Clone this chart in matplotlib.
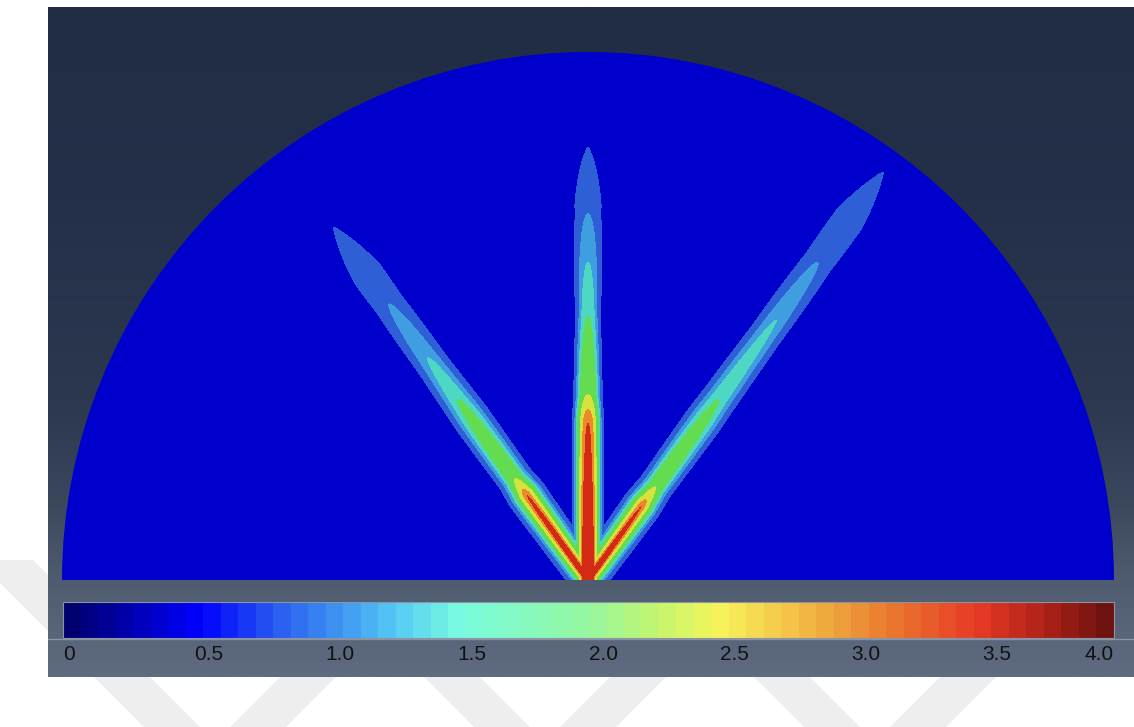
import numpy as np
import matplotlib.pyplot as plt
from matplotlib.colors import LinearSegmentedColormap, Normalize
from matplotlib.patches import Wedge, Polygon
from matplotlib.cm import ScalarMappable

# --- crack field data -------------------------------------------------------
# crack directions, degrees from vertical (+ = right)
crack_angle = [-35.9, 0.0, 36.0]
# contour levels of the band plot
levels = [0.6, 1.0, 1.3, 1.6, 2.3, 2.9, 3.3]
# distance from the notch (px) where each level runs out, per crack
tip_left = [435, 340, 274, 223, 125, 112, 106]
tip_mid = [432, 365, 317, 263, 185, 170, 157]
tip_right = [504, 392, 321, 223, 115, 100, 92]
# cross-section shape per crack: exponent and width (px) at the notch / further out
prof_k0 = [1.0, 2.2, 1.0]
prof_k1 = [1.8, 2.2, 1.8]
prof_w0 = [9.0, 11.0, 9.0]
prof_w1 = [18.0, 12.5, 18.0]
tip_widening = 8.0
tip_taper = 60.0
peak_value = 4.2
background_value = 0.35

band_colors = ['#0000cc', '#2f5fd6', '#3f9ee0', '#4ed8c4',
               '#64dc50', '#d8e23c', '#eb8a2a', '#d22a14']

# --- colorbar data ----------------------------------------------------------
cbar_ticks = [0, 0.5, 1.0, 1.5, 2.0, 2.5, 3.0, 3.5, 4.0]
cbar_labels = ['0', '0.5', '1.0', '1.5', '2.0', '2.5', '3.0', '3.5', '4.0']
cbar_pos = [0.0, 0.5, 0.8, 1.0, 1.25, 1.5, 2.0, 2.25, 2.5, 2.75, 3.0, 3.25, 3.5, 3.75, 4.0]
cbar_cols = ['#00006e', '#0000ff', '#2a5ef0', '#3c8cf0', '#55c8f5', '#78fce0',
             '#95f7a0', '#c0f570', '#f5f55a', '#f5c84a', '#ec9a38', '#e8682c',
             '#e83a25', '#b02318', '#6e1210']

W, H = 1134, 727
fig = plt.figure(figsize=(W / 100, H / 100), dpi=100)
fig.patch.set_facecolor('white')

def rect(x0, y0, x1, y1):
    # pixel box (top-left origin) -> figure fraction
    return [x0 / W, 1 - y1 / H, (x1 - x0) / W, (y1 - y0) / H]

# faint chevron watermark
wm = fig.add_axes([0, 0, 1, 1], zorder=0)
wm.set_xlim(0, W)
wm.set_ylim(H, 0)
wm.axis('off')
arm = 28
for xv in [215, 545, 875]:
    yb, yt = 770, 560
    h = yb - yt
    wm.add_patch(Polygon([(xv - arm, yb), (xv + arm, yb), (xv + arm - h, yt), (xv - arm - h, yt)],
                         closed=True, color='#eeeeee', lw=0))
    wm.add_patch(Polygon([(xv - arm, yb), (xv + arm, yb), (xv + arm + h, yt), (xv - arm + h, yt)],
                         closed=True, color='#eeeeee', lw=0))

# dark gradient panel
bg = fig.add_axes(rect(48, 7, 1134, 677), zorder=1)
bg_cmap = LinearSegmentedColormap.from_list(
    'panel', [(0.0, '#212d44'), (0.29, '#243049'), (0.587, '#2b3850'),
              (0.735, '#3a465c'), (0.855, '#4f5b6f'), (1.0, '#5f6b80')])
bg.imshow(np.linspace(0, 1, 400).reshape(-1, 1), cmap=bg_cmap, aspect='auto',
          extent=[0, 1, 1, 0])
bg.set_xlim(0, 1)
bg.set_ylim(1, 0)
bg.axis('off')
# light rule under the colour bar
bg.axhline((639 - 7) / 670, color='#8b95a5', lw=1.0)

# half-disc specimen
ax = fig.add_axes(rect(62, 52, 1114, 580), zorder=2)
ax.set_xlim(-1, 1)
ax.set_ylim(0, 1)
ax.axis('off')

R = 527.0
x = np.linspace(-1, 1, 760)
y = np.linspace(0, 1, 380)
X, Y = np.meshgrid(x, y)
field = np.full_like(X, background_value)
cracks = zip(crack_angle, [tip_left, tip_mid, tip_right],
             prof_k0, prof_k1, prof_w0, prof_w1)
for ang, tips, k0, k1, w0, w1 in cracks:
    t = np.deg2rad(ang)
    ux, uy = np.sin(t), np.cos(t)
    s = (X * ux + Y * uy) * R
    p = np.abs(-X * uy + Y * ux) * R
    p = np.where(s < 0, np.hypot(X, Y) * R, p)
    sc = np.clip(s, 0, None)
    L = tips[0]
    # ridge value: linear through the inner levels, rounded over the outer band
    s_knots = [0] + tips[::-1]
    a_knots = [peak_value] + levels[::-1]
    A = np.interp(sc, s_knots, a_knots)
    u = (sc - tips[1]) / (L - tips[1])
    outer = levels[0] + (levels[1] - levels[0]) * (1 - u ** 3)
    A = np.where(u > 0, np.clip(outer, 0, None), A)
    f = np.clip(sc / 200.0, 0, 1)
    g = np.clip((sc - 0.6 * L) / (0.4 * L), 0, 1)
    taper = np.clip((L + 2 - sc) / tip_taper, 0.02, 1) ** 0.5
    k = k0 + (k1 - k0) * f
    w = (w0 + (w1 - w0) * f + tip_widening * g) * taper
    field = np.maximum(field, A * np.exp(-(p / w) ** k))

cs = ax.contourf(X, Y, field, levels=[0] + levels + [10], colors=band_colors,
                 antialiased=False)
disc = Wedge((0, 0), 1.0, 0, 180, transform=ax.transData, facecolor='none', lw=0)
ax.add_patch(disc)
cs.set_clip_path(disc)

# colour bar
cax = fig.add_axes(rect(63, 602, 1114, 638), zorder=2)
cmap = LinearSegmentedColormap.from_list(
    'legend', [(p / 4.0, c) for p, c in zip(cbar_pos, cbar_cols)], N=60)
sm = ScalarMappable(norm=Normalize(0, 4), cmap=cmap)
cb = fig.colorbar(sm, cax=cax, orientation='horizontal')
cb.set_ticks([])
cb.outline.set_edgecolor('#8a94a4')
cb.outline.set_linewidth(0.8)
for v, lab in zip(cbar_ticks, cbar_labels):
    ha = 'right' if v == cbar_ticks[-1] else 'left'
    cax.text(v, -0.45, lab, ha=ha, va='center', fontsize=15,
             family='Liberation Sans', color='#111111',
             transform=cax.get_xaxis_transform())

fig.savefig('out.png', dpi=100, facecolor='white')
